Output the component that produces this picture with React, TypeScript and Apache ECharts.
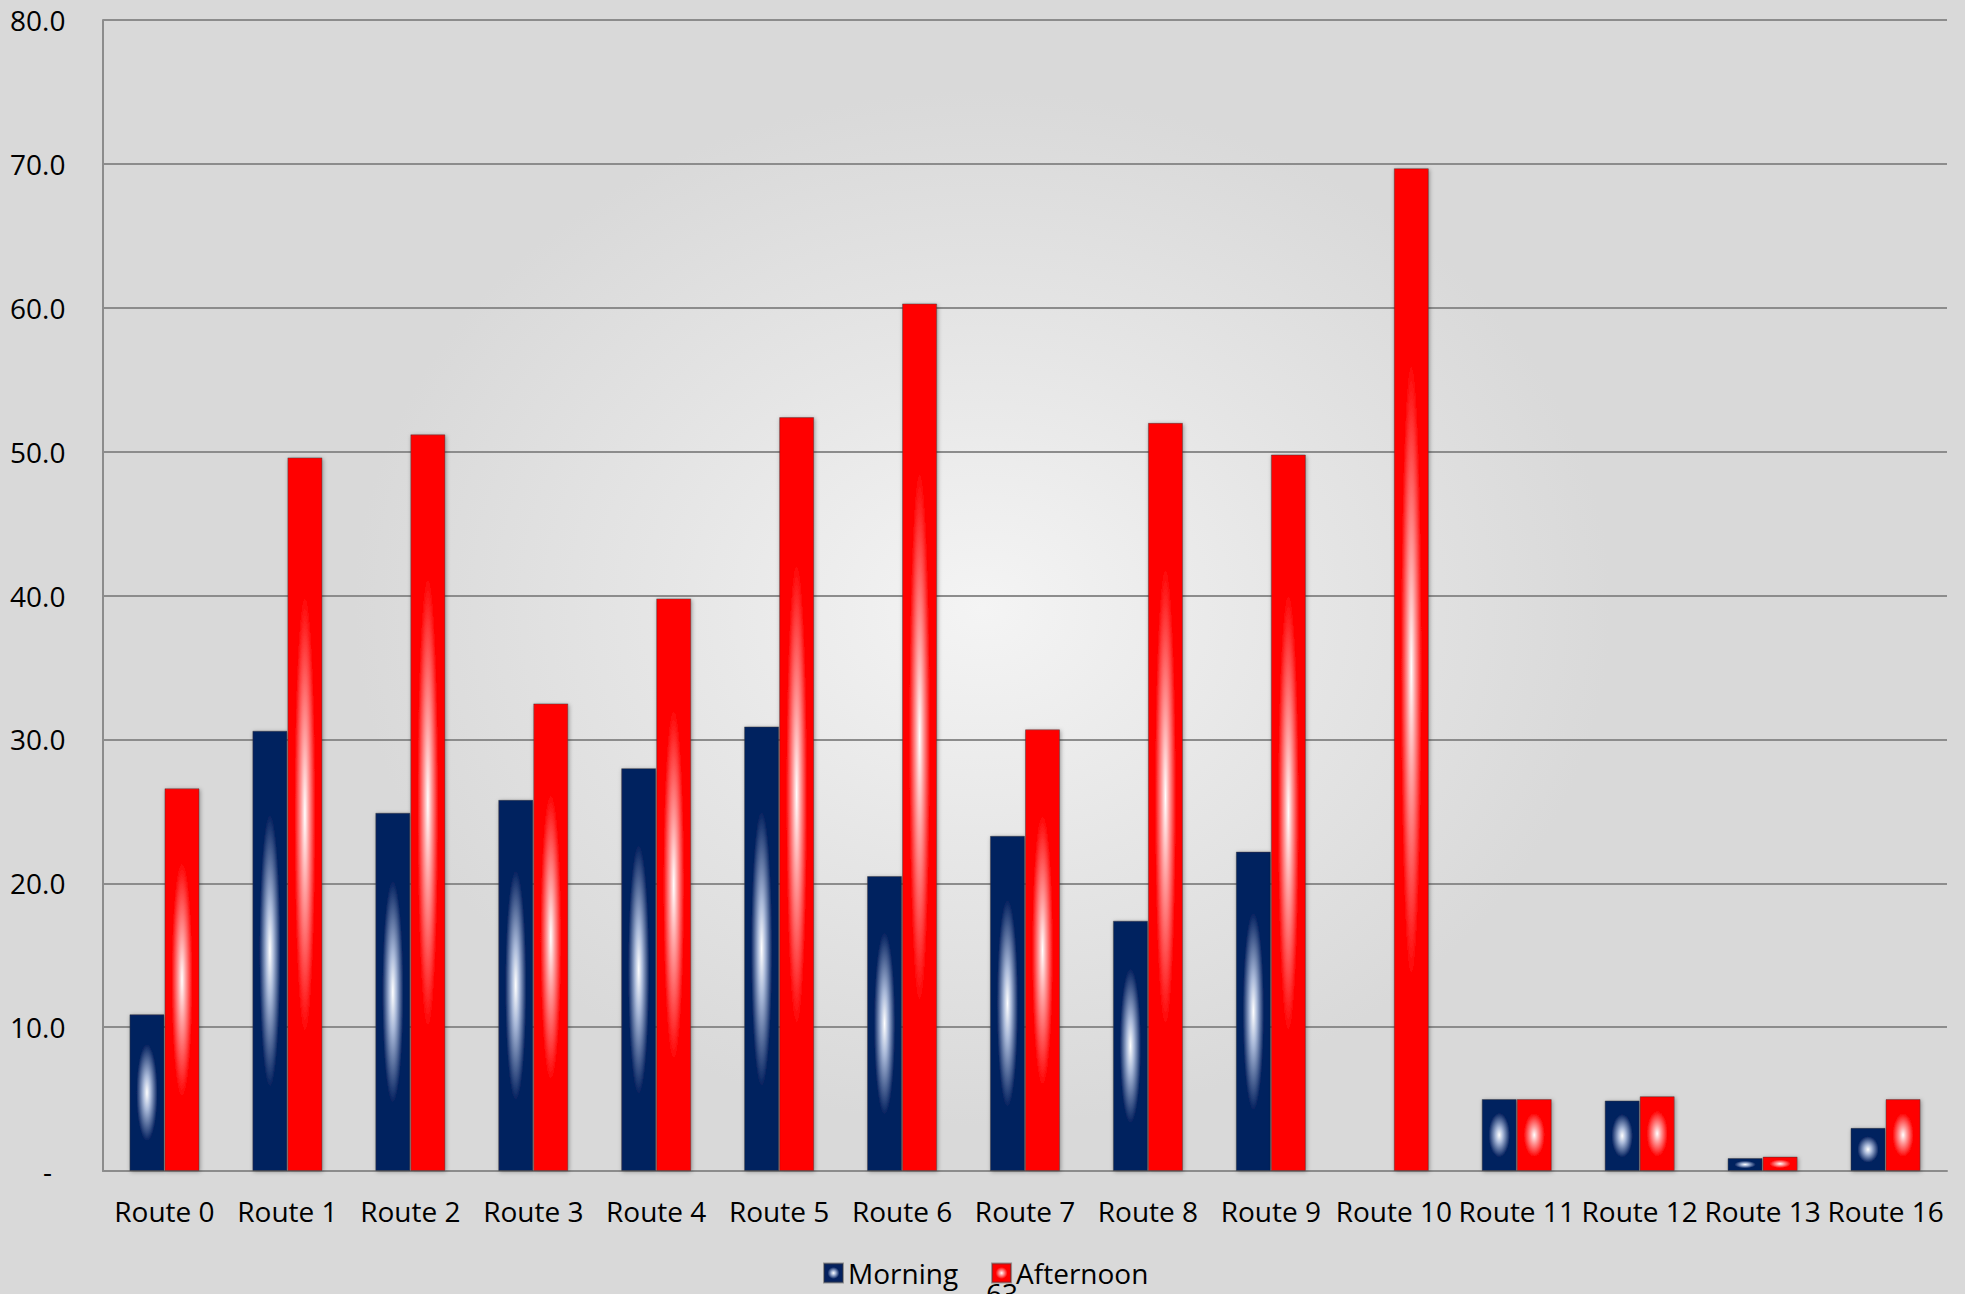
import React, { useEffect, useRef } from "react";
import * as echarts from "echarts";

const categories = [
  "Route 0", "Route 1", "Route 2", "Route 3", "Route 4", "Route 5", "Route 6", "Route 7",
  "Route 8", "Route 9", "Route 10", "Route 11", "Route 12", "Route 13", "Route 16",
];
const morning = [10.9, 30.6, 24.9, 25.8, 28.0, 30.9, 20.5, 23.3, 17.4, 22.2, 0, 5.0, 4.9, 0.9, 3.0];
const afternoon = [26.6, 49.6, 51.2, 32.5, 39.8, 52.4, 60.3, 30.7, 52.0, 49.8, 69.7, 5.0, 5.2, 1.0, 5.0];
const yTicks = [0, 10, 20, 30, 40, 50, 60, 70, 80];
const seriesNames = ["Morning", "Afternoon"];
const pageNumber = "63";

const FONT = "'Open Sans', 'Noto Sans', sans-serif";

function glow(base: string, mid: string) {
  return {
    type: "radial",
    x: 0.5,
    y: 0.5,
    r: 0.5,
    colorStops: [
      { offset: 0, color: "#ffffff" },
      { offset: 0.22, color: mid },
      { offset: 0.62, color: base },
      { offset: 1, color: base },
    ],
  };
}

export default function App() {
  const ref = useRef<HTMLDivElement>(null);
  useEffect(() => {
    document.body.style.margin = "0";
    const chart = echarts.init(ref.current!, null, { renderer: "svg" });
    const barStyle = {
      borderColor: "rgba(60,60,60,0.45)",
      borderWidth: 1,
      shadowBlur: 4,
      shadowColor: "rgba(0,0,0,0.35)",
      shadowOffsetX: 1,
      shadowOffsetY: 1,
    };
    chart.setOption({
      animation: false,
      backgroundColor: "transparent",
      textStyle: { fontFamily: FONT },
      grid: { left: 103, right: 18, top: 20, bottom: 123, containLabel: false },
      legend: {
        data: seriesNames,
        left: 823,
        top: 1256,
        padding: 0,
        itemWidth: 19,
        itemHeight: 19,
        itemGap: 33,
        icon: "rect",
        textStyle: { fontSize: 28, color: "#000", fontFamily: FONT, lineHeight: 34 },
      },
      xAxis: {
        type: "category",
        data: categories,
        axisLine: { show: true, lineStyle: { color: "#8c8c8c", width: 2 } },
        axisTick: { show: false },
        axisLabel: { fontSize: 28, color: "#000", margin: 26, interval: 0, fontFamily: FONT },
        splitLine: { show: false },
      },
      yAxis: {
        type: "value",
        min: 0,
        max: 80,
        interval: 10,
        axisLine: { show: true, lineStyle: { color: "#8c8c8c", width: 2 } },
        axisTick: { show: false },
        splitLine: { show: true, lineStyle: { color: "#8c8c8c", width: 2 } },
        axisLabel: {
          fontSize: 28,
          color: "#000",
          fontFamily: FONT,
          align: "left",
          margin: 93,
          formatter: (v: number) => (yTicks.indexOf(v) === 0 ? "{d|-}" : v.toFixed(1)),
          rich: { d: { fontSize: 28, color: "#000", fontFamily: FONT, padding: [0, 0, 0, 33] } },
        },
      },
      series: [
        {
          name: seriesNames[0],
          type: "bar",
          data: morning,
          barGap: "0%",
          barCategoryGap: "43%",
          itemStyle: { color: glow("#04215f", "#a8b8d8"), ...barStyle },
        },
        {
          name: seriesNames[1],
          type: "bar",
          data: afternoon,
          barGap: "0%",
          barCategoryGap: "43%",
          itemStyle: { color: glow("#ff0000", "#ffa0a0"), ...barStyle },
        },
      ],
      graphic: [
        {
          type: "text",
          left: 986,
          top: 1279,
          z: 100,
          style: { text: pageNumber, fontSize: 28, fill: "#000", fontFamily: FONT },
        },
      ],
    });
    return () => chart.dispose();
  }, []);
  return (
    <div
      ref={ref}
      style={{
        position: "absolute",
        left: 0,
        top: 0,
        width: 1965,
        height: 1294,
        background:
          "radial-gradient(ellipse 32% 40% at 50% 47%, #f4f4f4 0%, #e6e6e6 50%, #d9d9d9 100%)",
      }}
    />
  );
}
